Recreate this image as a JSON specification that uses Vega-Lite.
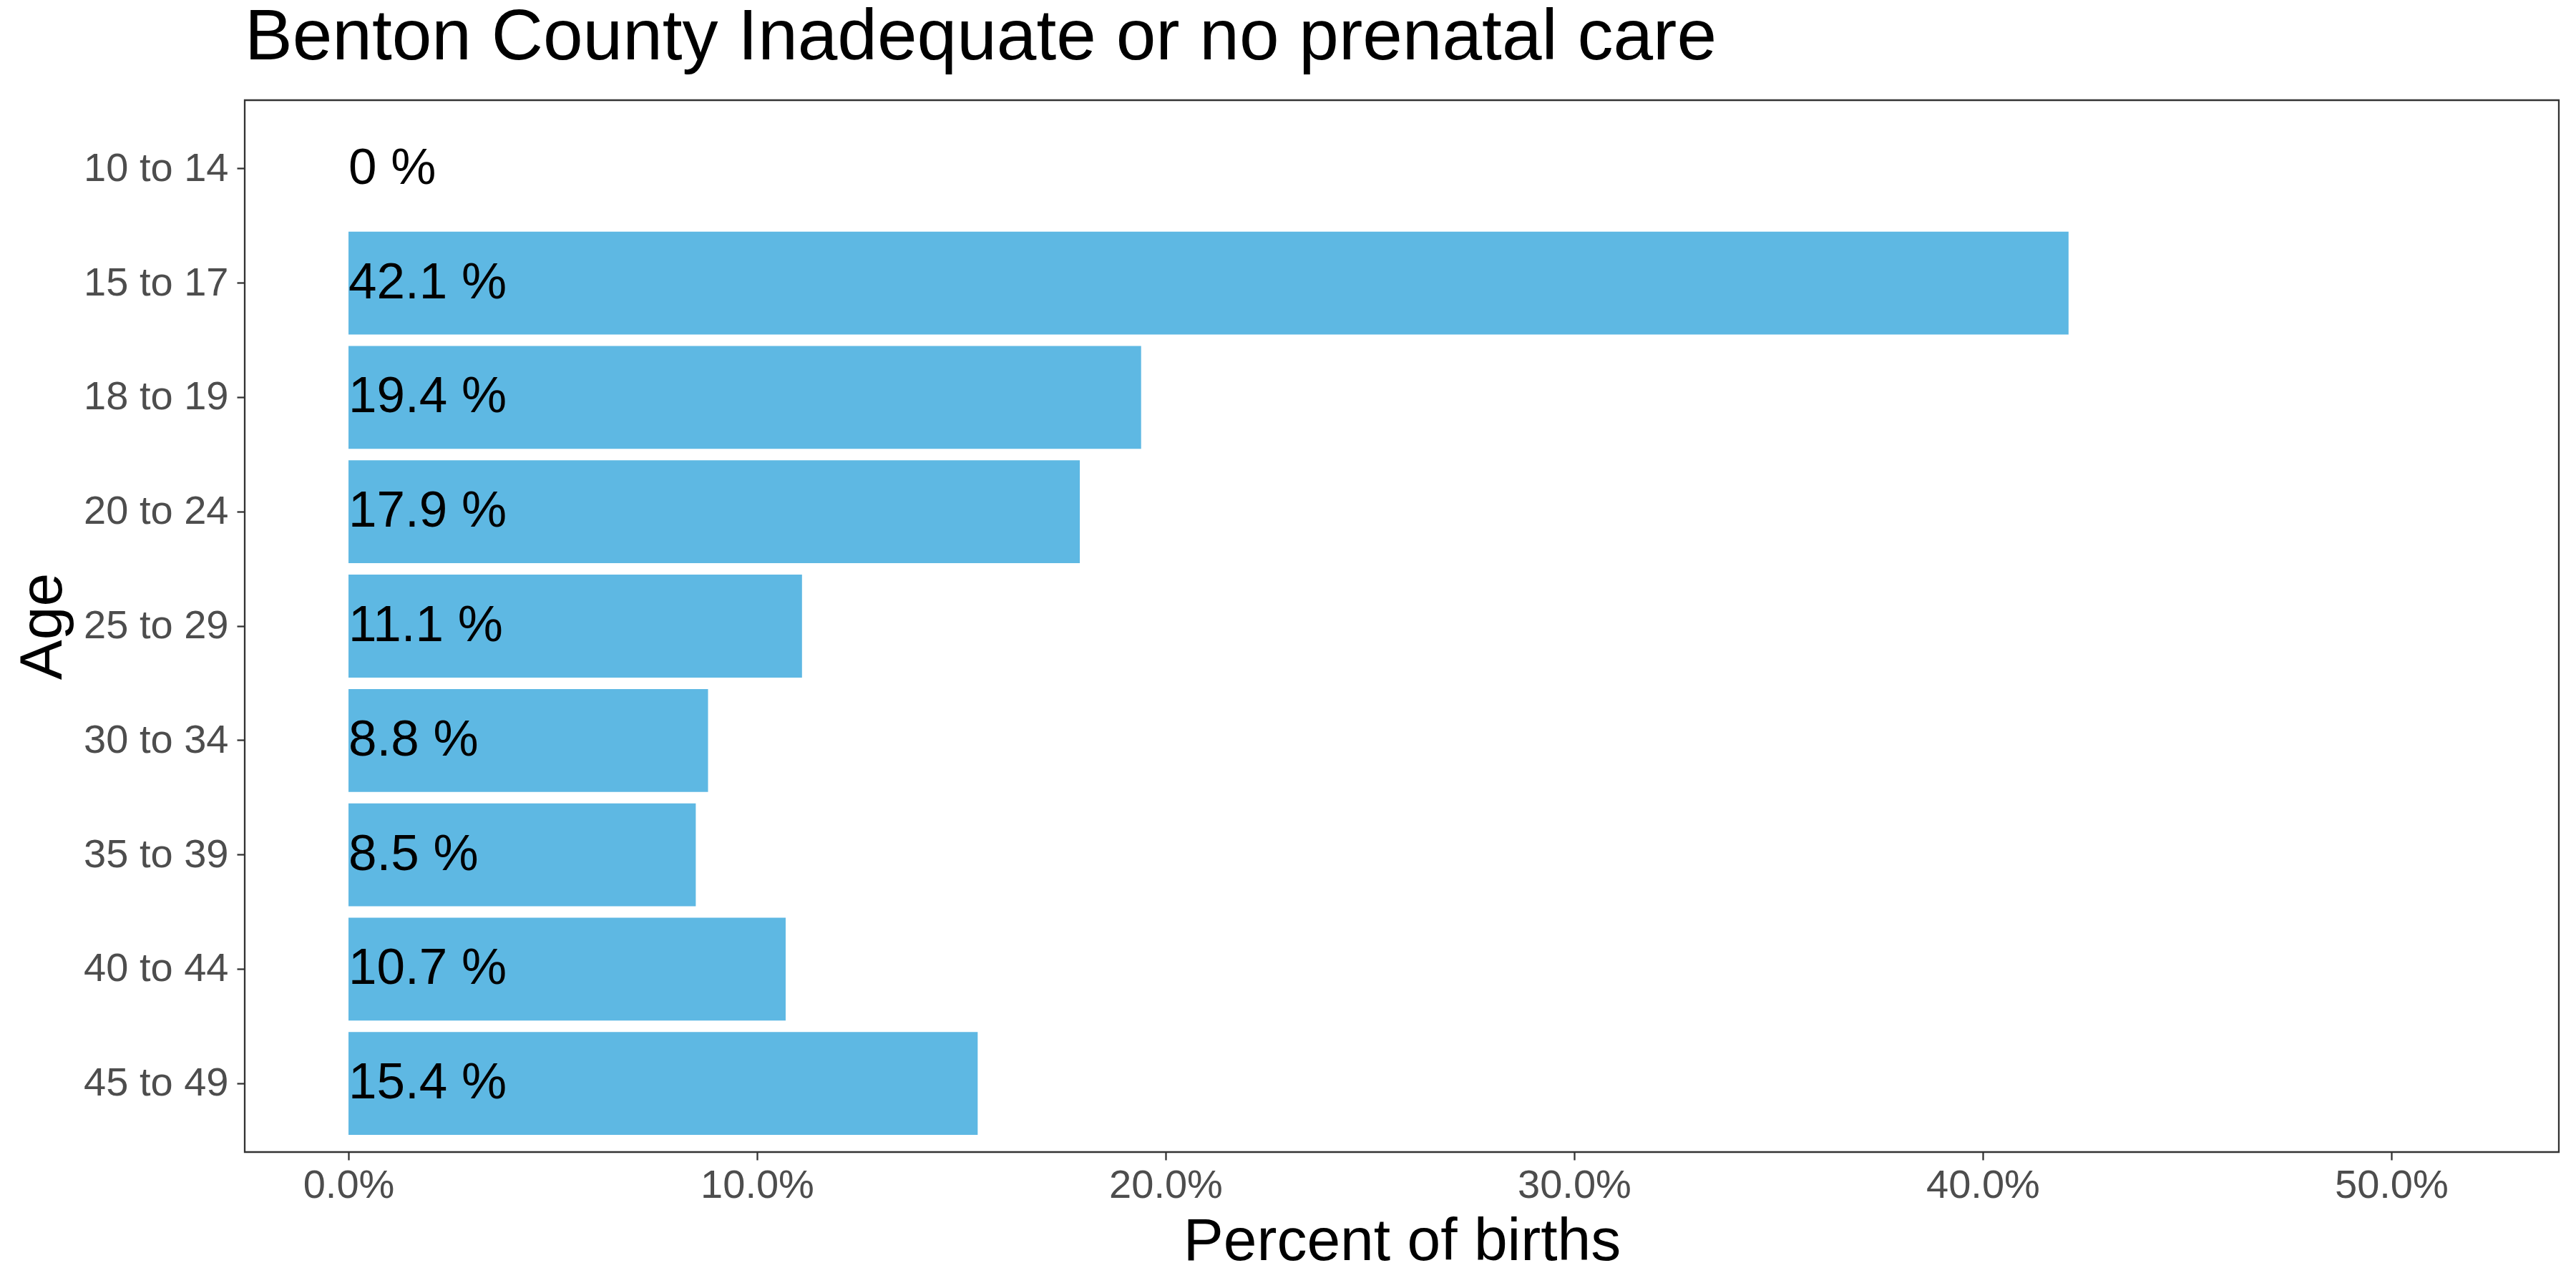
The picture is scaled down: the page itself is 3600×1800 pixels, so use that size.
{
  "$schema": "https://vega.github.io/schema/vega-lite/v6.json",
  "width": 3234,
  "height": 1470,
  "autosize": "none",
  "padding": {"left": 342, "top": 140, "right": 24, "bottom": 190},
  "background": "white",
  "title": {
    "text": "Benton County Inadequate or no prenatal care",
    "anchor": "start",
    "frame": "group",
    "font": "Liberation Sans",
    "fontSize": 100,
    "fontWeight": "normal",
    "color": "black",
    "baseline": "alphabetic",
    "offset": -43
  },
  "config": {
    "view": {"stroke": "#333333", "strokeWidth": 2.3},
    "axis": {
      "grid": false,
      "domain": false,
      "labelFont": "Liberation Sans",
      "labelFontSize": 56,
      "labelColor": "#4D4D4D",
      "labelLimit": 0,
      "tickColor": "#333333",
      "tickWidth": 2.3,
      "tickSize": 11,
      "titleFont": "Liberation Sans",
      "titleFontSize": 84,
      "titleFontWeight": "normal",
      "titleColor": "black"
    }
  },
  "data": {
    "values": [
      {"age": "10 to 14", "pct": 0, "label": "0 %"},
      {"age": "15 to 17", "pct": 42.1, "label": "42.1 %"},
      {"age": "18 to 19", "pct": 19.4, "label": "19.4 %"},
      {"age": "20 to 24", "pct": 17.9, "label": "17.9 %"},
      {"age": "25 to 29", "pct": 11.1, "label": "11.1 %"},
      {"age": "30 to 34", "pct": 8.8, "label": "8.8 %"},
      {"age": "35 to 39", "pct": 8.5, "label": "8.5 %"},
      {"age": "40 to 44", "pct": 10.7, "label": "10.7 %"},
      {"age": "45 to 49", "pct": 15.4, "label": "15.4 %"}
    ]
  },
  "encoding": {
    "y": {
      "field": "age",
      "type": "nominal",
      "sort": null,
      "title": "Age",
      "scale": {"paddingInner": 0.1, "paddingOuter": 0.15},
      "axis": {
        "labelPadding": 12,
        "titleBaseline": "alphabetic",
        "titleX": -257,
        "titleAngle": -90
      }
    }
  },
  "layer": [
    {
      "mark": {"type": "bar", "color": "#5EB8E3"},
      "encoding": {
        "x": {
          "field": "pct",
          "type": "quantitative",
          "title": "Percent of births",
          "scale": {"domain": [-2.54, 54.1], "nice": false, "zero": false},
          "axis": {
            "values": [0, 10, 20, 30, 40, 50],
            "labelExpr": "format(datum.value, '.1f') + '%'",
            "labelPadding": 8,
            "titleBaseline": "alphabetic",
            "titleY": 150
          }
        },
        "x2": {"datum": 0}
      }
    },
    {
      "mark": {
        "type": "text",
        "align": "left",
        "baseline": "middle",
        "font": "Liberation Sans",
        "fontSize": 71,
        "color": "black"
      },
      "encoding": {
        "x": {"datum": 0, "type": "quantitative"},
        "text": {"field": "label"}
      }
    }
  ]
}
